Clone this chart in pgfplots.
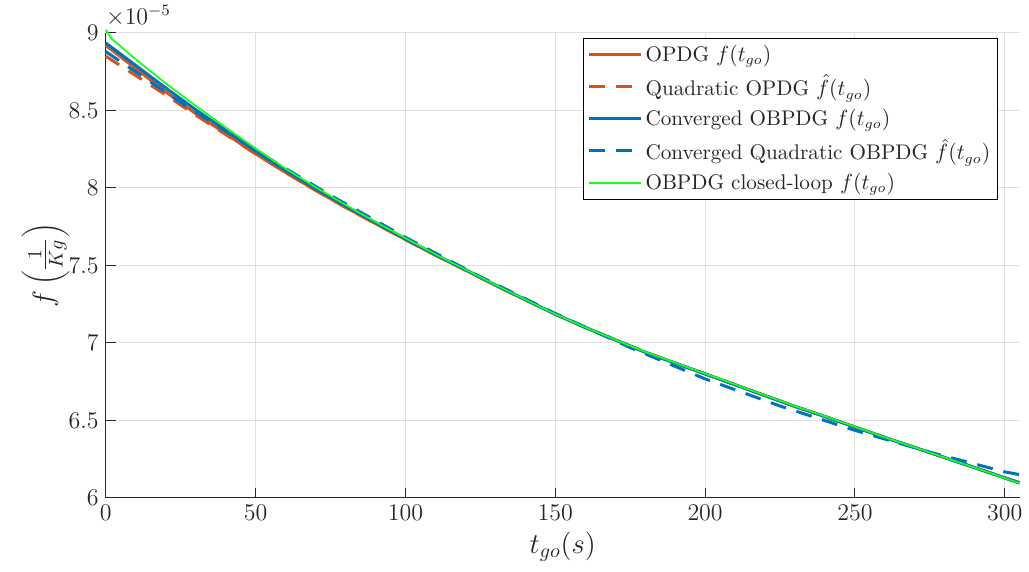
\documentclass[border=0pt]{standalone}
\usepackage{pgfplots}
\pgfplotsset{compat=1.18}
\usepackage{pgfplotstable}
\definecolor{mOrange}{rgb}{0.85,0.325,0.098}
\definecolor{mBlue}{rgb}{0,0.447,0.741}
\definecolor{mGreen}{rgb}{0.1,1,0.1}
\definecolor{axc}{rgb}{0.15,0.15,0.15}

\pgfplotstableread{
t f
0 8.92
10 8.77
20 8.62
30 8.48
40 8.35
50 8.22
60 8.10
70 7.985
80 7.875
90 7.77
100 7.667
110 7.566
120 7.47
130 7.372
140 7.278
150 7.185
160 7.10
170 7.02
180 6.94
190 6.87
200 6.80
210 6.73
220 6.66
230 6.59
240 6.525
250 6.457
260 6.39
270 6.325
280 6.26
290 6.195
300 6.129
305 6.097
}\opdg

\pgfplotstableread{
t f
0 8.85
10 8.725
20 8.60
30 8.47
40 8.345
50 8.22
60 8.10
70 7.985
80 7.875
90 7.77
100 7.667
110 7.566
120 7.47
130 7.372
140 7.278
150 7.185
160 7.10
170 7.02
180 6.94
190 6.87
200 6.80
210 6.73
220 6.66
230 6.59
240 6.525
250 6.457
260 6.39
270 6.325
280 6.26
290 6.195
300 6.129
305 6.097
}\qopdg

\pgfplotstableread{
t f
0 8.935
10 8.79
20 8.645
30 8.505
40 8.372
50 8.237
60 8.113
70 7.996
80 7.884
90 7.777
100 7.672
110 7.570
120 7.473
130 7.374
140 7.28
150 7.186
160 7.10
170 7.02
180 6.94
190 6.87
200 6.80
210 6.73
220 6.66
230 6.59
240 6.525
250 6.457
260 6.39
270 6.325
280 6.26
290 6.195
300 6.129
305 6.097
}\obpdg

\pgfplotstableread{
t f
0 8.88
25 8.552
50 8.242
75 7.952
100 7.681
125 7.427
150 7.19
175 6.97
200 6.768
225 6.593
250 6.436
275 6.295
300 6.168
305 6.15
}\qobpdg

\pgfplotstableread{
t f
0 9.02
2 8.962
10 8.83
20 8.675
30 8.53
40 8.39
50 8.255
60 8.125
70 8.005
80 7.891
90 7.781
100 7.676
110 7.572
120 7.474
130 7.375
140 7.28
150 7.186
160 7.101
170 7.021
180 6.942
190 6.872
200 6.802
210 6.732
220 6.662
230 6.592
240 6.527
250 6.459
260 6.391
270 6.326
280 6.26
290 6.195
300 6.128
305 6.095
}\obcl

\begin{document}
\begin{tikzpicture}
\begin{axis}[
  name=ax,
  scale only axis,
  width=458pt, height=233pt,
  xmin=0, xmax=305, ymin=6, ymax=9,
  xtick={0,50,...,300},
  ytick={6,6.5,...,9},
  yticklabels={6,6.5,7,7.5,8,8.5,9},
  axis x line*=bottom, axis y line*=left,
  axis line style={color=axc, line width=0.5pt},
  tick align=inside,
  major tick length=5pt,
  tick style={color=axc, line width=0.5pt},
  grid=major,
  major grid style={color=black!12, line width=0.5pt},
  ticklabel style={font=\fontsize{12}{14}\selectfont, color=axc},
  xlabel={$t_{go}(s)$},
  ylabel={$f\left(\frac{1}{Kg}\right)$},
  label style={font=\fontsize{14}{16}\selectfont, color=axc},
  xlabel style={at={(axis description cs:0.5,-0.105)}, anchor=center},
  ylabel style={at={(axis description cs:-0.066,0.5)}, anchor=center},
  legend cell align=left,
  legend style={at={(0.976,0.99)}, anchor=north east,
    draw=black, line width=0.5pt, fill=white,
    font=\fontsize{10.6}{13}\selectfont, text=axc,
    inner sep=2pt, row sep=2.2pt,
    nodes={inner sep=1.5pt}},
  legend image code/.code={\draw[#1] (0pt,0pt) -- (26pt,0pt);},
  clip=false,
]
\addplot[mOrange, line width=1.5pt] table[x=t,y=f] {\opdg};
\addlegendentry{OPDG $f(t_{go})$}
\addplot[mOrange, line width=1.5pt, dash pattern=on 8pt off 5.5pt] table[x=t,y=f] {\qopdg};
\addlegendentry{Quadratic OPDG $\hat{f}(t_{go})$}
\addplot[mBlue, line width=1.5pt] table[x=t,y=f] {\obpdg};
\addlegendentry{Converged OBPDG $f(t_{go})$}
\addplot[mBlue, line width=1.5pt, dash pattern=on 8pt off 5.5pt] table[x=t,y=f] {\qobpdg};
\addlegendentry{Converged Quadratic OBPDG $\hat{f}(t_{go})$}
\addplot[mGreen, line width=0.9pt] table[x=t,y=f] {\obcl};
\addlegendentry{OBPDG closed-loop $f(t_{go})$}
\end{axis}
\node[anchor=south west, font=\fontsize{12}{14}\selectfont, text=axc, inner sep=0pt] at ([yshift=3pt]ax.north west) {$\times10^{-5}$};
\path (ax.south west) ++(-53pt,-37pt) rectangle ++(514.5pt,286.5pt);
\end{tikzpicture}
\end{document}
